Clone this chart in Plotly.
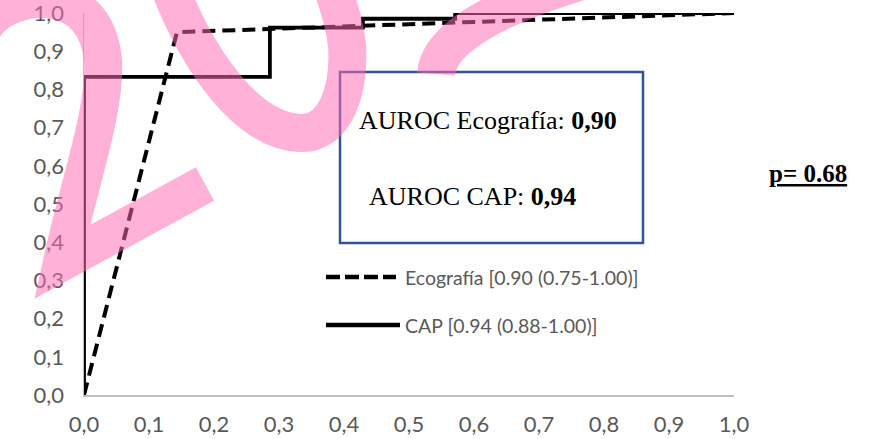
import plotly.graph_objects as go

# ---------------- data ----------------
eco_name = "Ecografía [0.90 (0.75-1.00)]"
eco_fpr = [0.0, 0.143, 1.0]
eco_tpr = [0.0, 0.950, 1.0]

cap_name = "CAP [0.94 (0.88-1.00)]"
cap_fpr = [0.0, 0.0, 0.286, 0.286, 0.429, 0.429, 0.571, 0.571, 1.0]
cap_tpr = [0.0, 0.833, 0.833, 0.962, 0.962, 0.985, 0.985, 1.0, 1.0]

tick_vals = [0.0, 0.1, 0.2, 0.3, 0.4, 0.5, 0.6, 0.7, 0.8, 0.9, 1.0]
tick_text = ["0,0", "0,1", "0,2", "0,3", "0,4", "0,5", "0,6", "0,7", "0,8", "0,9", "1,0"]

auroc_eco = "0,90"
auroc_cap = "0,94"
p_value = "p= 0.68"

# ---------------- layout geometry (pixels) ----------------
W, H = 876, 439
L, R, T, B = 84, 142, 13, 44
PW, PH = W - L - R, H - T - B


def px(x, y):
    return (x - L) / PW, (H - B - y) / PH


def path_from_px(cmds):
    out = []
    for c, pts in cmds:
        s = c + " " + " ".join("%.5f,%.5f" % px(x, y) for x, y in pts)
        out.append(s)
    return " ".join(out)


fig = go.Figure()

fig.add_trace(go.Scatter(
    x=eco_fpr, y=eco_tpr, mode="lines", name=eco_name,
    line=dict(color="black", width=4, dash="13px,7px"),
    cliponaxis=False, showlegend=False, hoverinfo="skip"))
fig.add_trace(go.Scatter(
    x=cap_fpr, y=cap_tpr, mode="lines", name=cap_name,
    line=dict(color="black", width=3.8),
    cliponaxis=False, showlegend=False, hoverinfo="skip"))

axis_common = dict(
    tickvals=tick_vals, ticktext=tick_text,
    showgrid=False, zeroline=False, showline=True, linecolor="#bfbfbf", linewidth=1.5,
    ticks="", tickfont=dict(family="Lato", size=22, color="#595959"),
    automargin=False, ticklabeloverflow="allow",
)
fig.update_xaxes(**axis_common, range=[0, 1], ticklabelstandoff=9)
fig.update_yaxes(**axis_common, range=[0, 1.0001], ticklabelstandoff=14)

shapes = []
# AUROC box
x0, y0 = px(340, 243)
x1, y1 = px(643, 72)
shapes.append(dict(type="rect", xref="paper", yref="paper", x0=x0, y0=y0, x1=x1, y1=y1,
                   line=dict(color="#2f5597", width=2.5), layer="above"))

# custom legend samples
lx0, ly = px(326, 277)
lx1, _ = px(396, 277)
shapes.append(dict(type="line", xref="paper", yref="paper", x0=lx0, x1=lx1, y0=ly, y1=ly,
                   line=dict(color="black", width=4.5, dash="14px,5px")))
lx0, ly2 = px(326, 325)
lx1, _ = px(400, 325)
shapes.append(dict(type="line", xref="paper", yref="paper", x0=lx0, x1=lx1, y0=ly2, y1=ly2,
                   line=dict(color="black", width=4.5)))

# pink watermark strokes
pink = dict(color="rgba(255,105,180,0.52)", width=38)
wm1 = path_from_px([
    ("M", [(-15, 25)]),
    ("C", [(10, -10), (95, -20), (103, 60)]),
    ("C", [(106, 110), (80, 180), (62, 262)]),
    ("L", [(205, 184)]),
])
wm2 = path_from_px([
    ("M", [(165, -25)]),
    ("C", [(190, 45), (240, 130), (300, 133)]),
    ("C", [(335, 135), (350, 90), (347, 45)]),
    ("C", [(344, 20), (338, 5), (330, -20)]),
])
wm3 = path_from_px([
    ("M", [(436, 74)]),
    ("Q", [(440, 25), (578, -18)]),
])
for p in (wm1, wm2, wm3):
    shapes.append(dict(type="path", xref="paper", yref="paper", path=p, line=pink, layer="above"))

fig.update_layout(shapes=shapes)

annotations = []
leg_font = dict(family="Lato", size=19.5, color="#595959")
ax, ay = px(403, 277)
annotations.append(dict(x=ax, y=ay, xref="paper", yref="paper", text=eco_name, showarrow=False,
                        xanchor="left", yanchor="middle", font=leg_font))
ax, ay = px(403, 325)
annotations.append(dict(x=ax, y=ay, xref="paper", yref="paper", text=cap_name, showarrow=False,
                        xanchor="left", yanchor="middle", font=leg_font))
ax, ay = px(488, 121)
annotations.append(dict(x=ax, y=ay, xref="paper", yref="paper",
                        text="AUROC Ecografía: <b>%s</b>" % auroc_eco, showarrow=False,
                        xanchor="center", yanchor="middle",
                        font=dict(family="Liberation Serif", size=26, color="black")))
ax, ay = px(472, 197)
annotations.append(dict(x=ax, y=ay, xref="paper", yref="paper",
                        text="AUROC CAP: <b>%s</b>" % auroc_cap, showarrow=False,
                        xanchor="center", yanchor="middle",
                        font=dict(family="Liberation Serif", size=26, color="black")))
ax, ay = px(808, 173)
annotations.append(dict(x=ax, y=ay, xref="paper", yref="paper",
                        text="<b><u>%s</u></b>" % p_value, showarrow=False,
                        xanchor="center", yanchor="middle",
                        font=dict(family="Liberation Serif", size=25, color="black")))
fig.update_layout(annotations=annotations)

fig.update_layout(
    width=W, height=H,
    margin=dict(l=L, r=R, t=T, b=B, pad=0),
    paper_bgcolor="white", plot_bgcolor="white",
    showlegend=False, hovermode=False,
)

fig.write_html("out.html", config={"displayModeBar": False, "staticPlot": True},
               post_script="document.body.style.margin='0';document.body.style.overflow='hidden';")
